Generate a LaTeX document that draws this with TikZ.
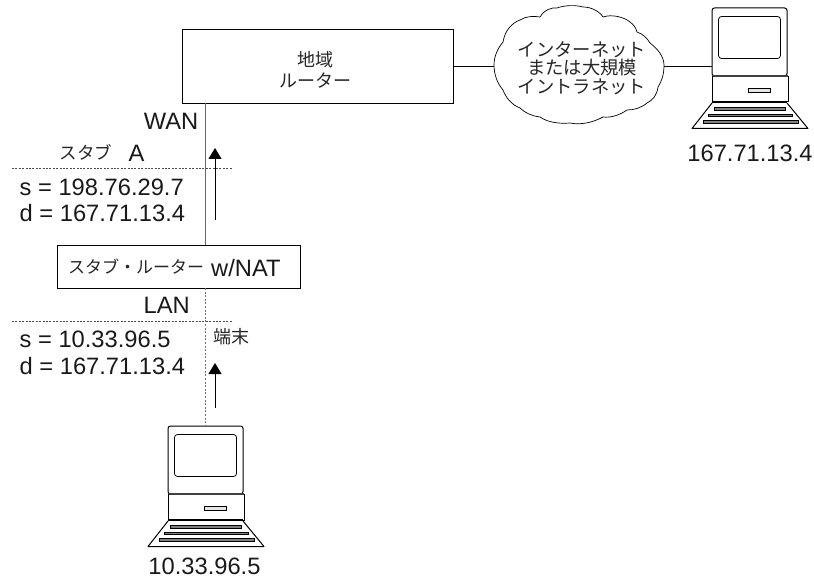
\documentclass[tikz,border=0pt]{standalone}
\usepackage{fontspec}
\setmainfont{Liberation Sans}
\newfontfamily\cjk{Noto Sans CJK JP}
\usetikzlibrary{arrows.meta,calc}
\tikzset{
  x=1pt,y=-1pt,
  boxn/.style={draw,line width=0.8pt,inner sep=0pt,outer sep=0pt,anchor=north west},
  lbl/.style={font=\fontsize{23.7}{26}\selectfont,inner sep=0pt,text=black!90},
  jp/.style={font=\cjk\fontsize{17}{20}\selectfont,inner sep=0pt,text=black!85},
  conn/.style={line width=0.8pt},
  wan/.style={line width=1pt,black!60},
  lan/.style={line width=1pt,black!55,dash pattern=on 2pt off 1.6pt},
  sep/.style={line width=0.7pt,black!70,dash pattern=on 2pt off 1.4pt},
  flow/.style={line width=1pt,-{Triangle[length=11pt,width=13pt]}},
  pics/computer/.style={code={
    \draw[line width=1pt,rounded corners=2.5pt,fill=white] (0,68)--(0,0)--(75,0)--(75,68)--cycle;
    \draw[line width=0.8pt,rounded corners=3pt] (6.5,8.5) rectangle (68.5,50.5);
    \draw[line width=1.2pt,black!75] (0,68)--(76,68);
    \draw[line width=1pt] (0,68)--(0,94)--(76,94)--(76,68);
    \draw[line width=0.7pt,fill=black!10] (36,80) rectangle (58,84);
    \draw[line width=1.2pt] (0,94)--(75,94);
    \draw[line width=1pt,line join=round] (0,95)--(-20,120.5)--(96,120.5)--(75,95);
    \draw[line width=0.6pt,fill=black!50] (2.5,99.5) rectangle (73,102);
    \draw[line width=0.6pt,fill=black!50] (-3.5,106) rectangle (80,108.5);
    \draw[line width=0.6pt,fill=black!50] (-9,112) rectangle (86,115);
  }}
}
\begin{document}
\begin{tikzpicture}
\useasboundingbox (0,0) rectangle (814,580);
% boxes
\node[boxn,minimum width=271pt,minimum height=73.5pt] (regional) at (182.3,29.5) {};
\node[font=\cjk\fontsize{18}{20.5}\selectfont,align=center,inner sep=0pt,text=black!85] (regionaltext) at (315,70) {地域\\ルーター};
\node[boxn,minimum width=243pt,minimum height=43pt] (stub) at (57,245) {};
\node[jp,anchor=west] (stubtext) at (68,267) {スタブ・ルーター};
\node[lbl,anchor=west] (nat) at (211,268) {w/NAT};
% cloud
\draw[line width=0.7pt] (494,65)
 .. controls (494,56) and (498,48) .. (503,42)
 .. controls (505,30) and (512,23) .. (520,20)
 .. controls (526,16) and (534,16) .. (540,17)
 .. controls (544,10) and (552,7) .. (557,8)
 .. controls (565,5) and (576,5) .. (583,7)
 .. controls (592,7) and (600,12) .. (603,17)
 .. controls (612,14) and (624,17) .. (630,22)
 .. controls (634,25) and (636,28) .. (637,32)
 .. controls (643,34) and (647,38) .. (650,43)
 .. controls (658,49) and (664,57) .. (664,65)
 .. controls (664,74) and (662,81) .. (658,87)
 .. controls (657,95) and (653,100) .. (647,103)
 .. controls (641,108) and (634,110) .. (627,110)
 .. controls (620,115) and (611,118) .. (603,117)
 .. controls (592,123) and (580,125) .. (570,123)
 .. controls (558,124) and (547,122) .. (540,117)
 .. controls (532,116) and (525,113) .. (520,108)
 .. controls (512,105) and (506,98) .. (503,90)
 .. controls (497,83) and (494,74) .. (494,65) -- cycle;
\coordinate (cloudw) at (494,66.5);
\coordinate (cloude) at (664,66.5);
\node[font=\cjk\fontsize{18.3}{18.7}\selectfont,align=center,inner sep=0pt,text=black!85] (cloudtext) at (582,68) {インターネット\\または大規模\\イントラネット};
% computers
\pic (pcr) at (712,8) {computer};
\pic (pcb) at (168,426) {computer};
\coordinate (pcrw) at (712,66.5);
\coordinate (pcbtop) at (205,426);
\node[lbl] (ipr) at (750,153) {167.71.13.4};
\node[lbl] (ipb) at (204.5,566) {10.33.96.5};
% connectors
\coordinate (regs) at (205,103);
\coordinate (stubn) at (205,245);
\coordinate (stubs) at (205,288);
\coordinate (regE) at (453.3,66.5);
\draw[conn] (regE)--(cloudw);
\draw[conn] (cloude)--(pcrw);
\draw[wan] (regs)--(stubn);
\draw[lan] (stubs)--(pcbtop);
% separators
\coordinate (s1a) at (12,168); \coordinate (s1b) at (232,168);
\coordinate (s2a) at (12,321); \coordinate (s2b) at (232,321);
\draw[sep] (s1a)--(s1b);
\draw[sep] (s2a)--(s2b);
% flows
\coordinate (f1a) at (215,220); \coordinate (f1b) at (215,148);
\coordinate (f2a) at (215,408); \coordinate (f2b) at (215,363);
\draw[flow] (f1a)--(f1b);
\draw[flow] (f2a)--(f2b);
% labels
\node[lbl,anchor=east] (wanl) at (198.5,121.5) {WAN};
\node[jp,anchor=west,font=\cjk\fontsize{17.5}{20}\selectfont] (stubA) at (59.5,152) {スタブ};
\node[lbl] (Al) at (136.5,153) {A};
\node[lbl,anchor=west] (s1) at (19.5,187) {s = 198.76.29.7};
\node[lbl,anchor=west] (d1) at (19.5,213) {d = 167.71.13.4};
\node[lbl,anchor=east] (lanl) at (190,305) {LAN};
\node[lbl,anchor=west] (s2) at (19.5,339) {s = 10.33.96.5};
\node[lbl,anchor=west] (d2) at (19.5,366) {d = 167.71.13.4};
\node[jp,anchor=west,font=\cjk\fontsize{18}{20}\selectfont] (term) at (213,337) {端末};
\end{tikzpicture}
\end{document}
